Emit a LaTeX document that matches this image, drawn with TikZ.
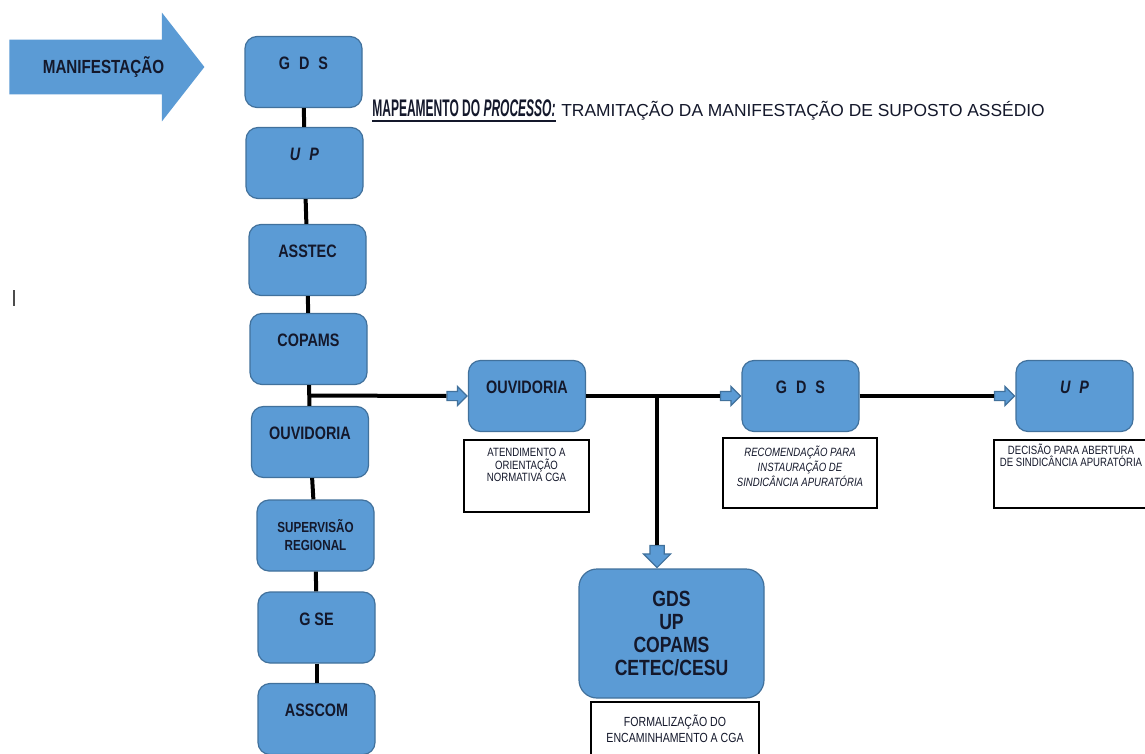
\documentclass[tikz,border=0pt]{standalone}
\usepackage{fontspec}
\usetikzlibrary{shapes.arrows,calc}
\newfontfamily\hand[FakeStretch=0.8]{Liberation Sans}
\newfontfamily\handc[FakeStretch=0.5]{Liberation Sans}
\newfontfamily\handw{Liberation Sans}
\definecolor{boxblue}{HTML}{5B9BD5}
\definecolor{boxline}{HTML}{41719C}
\definecolor{ink}{HTML}{14182B}

\begin{document}
\begin{tikzpicture}[x=0.5pt,y=-0.5pt,
  boxshape/.style = {draw=boxline, fill=boxblue, rounded corners=6pt, line width=0.6pt, minimum width=58.5pt, minimum height=35.5pt, inner sep=0pt, text=ink, font=\hand\bfseries\fontsize{9pt}{10pt}\selectfont},
  box/.style = {boxshape, text height=16.7pt, text depth=18.8pt},
  note/.style = {draw, fill=white, line width=0.6pt, inner sep=0pt, text=ink, font=\hand\fontsize{6pt}{6.4pt}\selectfont},
  conn/.style = {line width=2pt},
  flow/.style = {single arrow, draw=boxline, fill=boxblue, line width=0.6pt, inner sep=2pt, minimum height=10pt, single arrow head extend=2.5pt}]
\path[use as bounding box, fill=white] (0,0) rectangle (1145,754);
\clip (0,0) rectangle (1145,754);

\node[single arrow, fill=boxblue, inner xsep=0pt, inner ysep=13.5pt, minimum height=97.5pt, single arrow head extend=13.5pt, single arrow tip angle=104, anchor=tail] (manif) at (9,67) {};
\node[text=ink, font=\hand\bfseries\fontsize{9.5pt}{10pt}\selectfont] (maniftxt) at (103.5,67) {MANIFESTAÇÃO};

\node[anchor=base west, inner sep=0pt, text=ink, font=\handc\bfseries\fontsize{12pt}{13pt}\selectfont] (title) at (372,117) {MAPEAMENTO DO \textit{PROCESSO:}};
\node[anchor=base west, inner sep=0pt, text=ink, font=\handw\fontsize{8.7pt}{10pt}\selectfont] (subtitle) at ([xshift=2.5pt]title.base east) {TRAMITAÇÃO DA MANIFESTAÇÃO DE SUPOSTO ASSÉDIO};
\draw[line width=1pt, ink] ([yshift=-2pt]title.base west) -- ([yshift=-2pt]title.base east);

\draw[line width=0.6pt, black!70] (14,290) -- (14,306);

\node[box] (gds1) at (303.5,72) {G\enspace D\enspace S};
\node[box] (up1) at (304.5,163) {\textit{U\enspace P}};
\node[box] (asstec) at (307.5,260) {ASSTEC};
\node[box] (copams) at (308.5,349) {COPAMS};
\node[box] (ouv1) at (310,442) {OUVIDORIA};
\node[boxshape, align=center, font=\hand\bfseries\fontsize{7.3pt}{9pt}\selectfont] (superv) at (315.5,535.5) {SUPERVISÃO\\REGIONAL};
\node[box] (gse) at (316.5,627.5) {G SE};
\node[box] (asscom) at (316.5,719) {ASSCOM};

\draw[conn] (gds1) -- (up1);
\draw[conn] (up1) -- (asstec);
\draw[conn] (asstec) -- (copams);
\draw[conn] (copams) -- (ouv1);
\draw[conn] (ouv1) -- (superv);
\draw[conn] (superv) -- (gse);
\draw[conn] (gse) -- (asscom);

\node[box] (ouv2) at (527,396) {OUVIDORIA};
\node[box] (gds2) at (800.5,396) {G\enspace D\enspace S};
\node[box] (up2) at (1074.5,396) {\textit{U\enspace P}};
\node[boxshape, align=center, rounded corners=9pt, minimum width=92.5pt, minimum height=64.5pt, font=\hand\bfseries\fontsize{11pt}{11.5pt}\selectfont] (cga) at (671.5,633.5) {GDS\\UP\\COPAMS\\CETEC/CESU};

\node[note] (ouv2note) at (526.5,476) {\parbox[c][36pt][t]{62.5pt}{\centering\vspace{4pt}ATENDIMENTO A\\ORIENTAÇÃO\\NORMATIVA CGA}};
\node[note, font=\hand\itshape\fontsize{6pt}{6.4pt}\selectfont] (gds2note) at (800,473) {\parbox[c][35pt][t]{77pt}{\centering\vspace{4.2pt}RECOMENDAÇÃO PARA\\INSTAURAÇÃO DE\\SINDICÂNCIA APURATÓRIA}};
\node[note] (up2note) at (1071,474) {\parbox[c][34pt][t]{77pt}{\centering\vspace{1.8pt}DECISÃO PARA ABERTURA\\DE SINDICÂNCIA APURATÓRIA}};
\node[note, font=\hand\fontsize{6.6pt}{8pt}\selectfont] (cganote) at (675,738) {\parbox[c][36pt][t]{84pt}{\centering\vspace{6.4pt}FORMALIZAÇÃO DO\\ENCAMINHAMENTO A CGA}};

\coordinate (tee) at ($(copams.south)!0.5!(ouv1.north)$);
\node[flow, anchor=tip] (a1) at (ouv2.west) {};
\node[flow, anchor=tip] (a2) at (gds2.west) {};
\node[flow, anchor=tip] (a3) at (up2.west) {};
\coordinate (br) at ($(ouv2.east)!0.53!(a2.tail)$);
\node[flow, shape border rotate=270, inner sep=3.25pt, single arrow head extend=3.25pt, minimum height=11pt, anchor=tip] (a4) at (br |- cga.north) {};

\draw[conn] (tee) -- (a1.tail);
\draw[conn] (ouv2.east) -- (a2.tail);
\draw[conn] (gds2.east) -- (a3.tail);
\draw[conn] (br) -- (a4.tail);
\end{tikzpicture}
\end{document}
